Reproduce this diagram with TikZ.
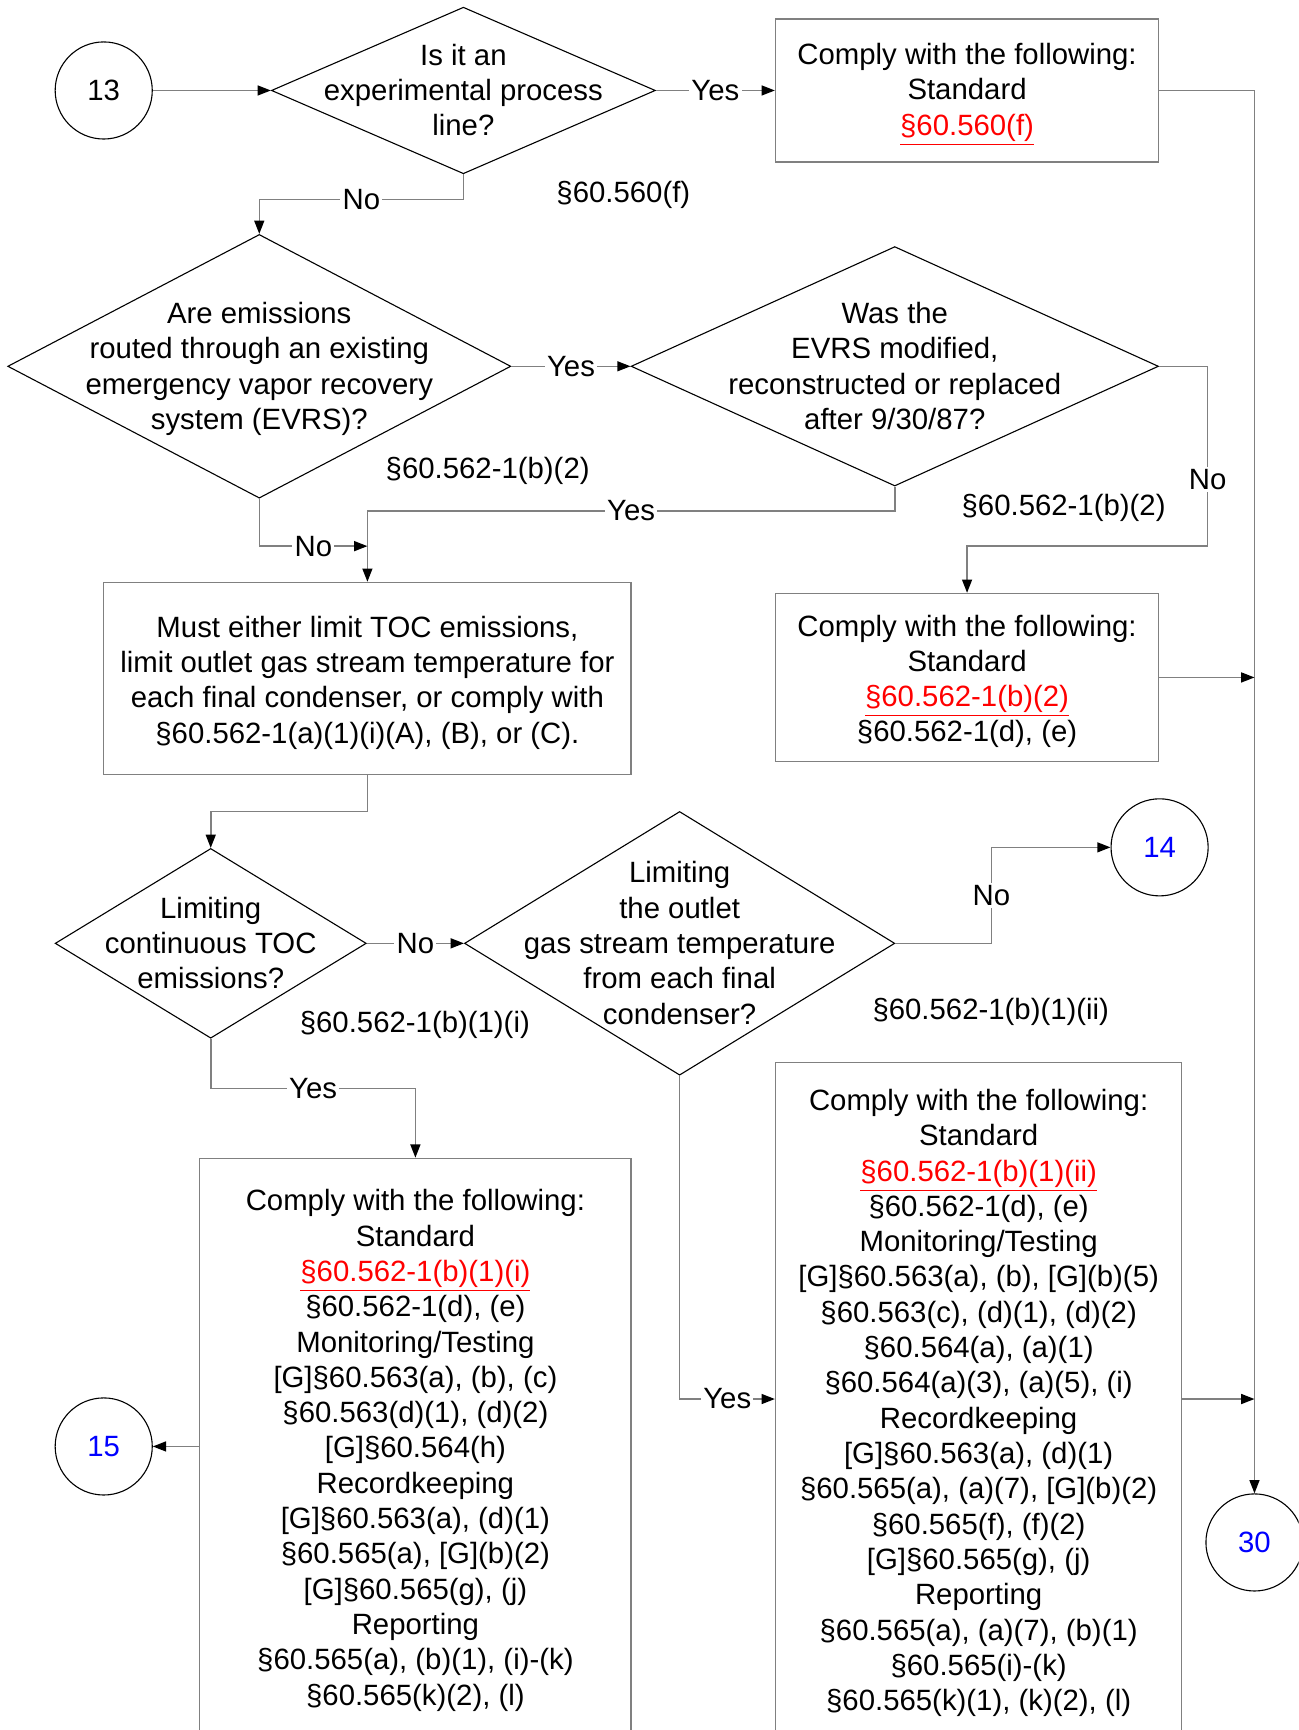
\documentclass[tikz,border=0pt]{standalone}
\usepackage{fontspec}
\setmainfont{Liberation Sans}
\usetikzlibrary{shapes.geometric,arrows.meta}

\newcommand{\qtext}[1]{\makebox[0pt]{\smash{\raisebox{-5pt}{\begin{tabular}{@{}c@{}}#1\end{tabular}}}}}
\newcommand{\stdref}[1]{\textcolor{red}{\underline{#1}}}
\newcommand{\topgap}{\rule{0pt}{13.2pt}}

\begin{document}
\begin{tikzpicture}[x=0.5pt,y=-0.5pt,
	every node/.style={font=\fontsize{13.3}{16}\selectfont},
	dec/.style={diamond,draw=black,line width=0.5pt,inner sep=0pt},
	stdbox/.style={rectangle,draw=gray,line width=0.7pt,align=center,inner sep=0pt},
	pagecirc/.style={circle,draw=black,line width=0.5pt,minimum size=44pt,inner sep=0pt},
	conn/.style={draw=gray,line width=0.7pt,-{Triangle[length=6pt,width=4.5pt,color=black]}},
	lbl/.style={fill=white,inner sep=1pt}]
	\useasboundingbox (0,0) rectangle (1177,1568);
	\clip (0,0) rectangle (1177,1568);

	% off-page connectors
	\node[pagecirc] (c13) at (94,82) {13};
	\node[pagecirc,text=blue] (c14) at (1051,768) {14};
	\node[pagecirc,text=blue] (c15) at (94,1311) {15};
	\node[pagecirc,text=blue] (c30) at (1137,1398) {30};

	% decisions
	\node[dec,minimum width=174pt,minimum height=75.5pt] (q1) at (420,82) {\qtext{Is it an\\experimental process\\line?}};
	\node[dec,minimum width=228pt,minimum height=119.5pt] (q2) at (235,332) {\qtext{Are emissions\\routed through an existing\\emergency vapor recovery\\system (EVRS)?}};
	\node[dec,minimum width=239pt,minimum height=108.5pt] (q3) at (811,332) {\qtext{Was the\\EVRS modified,\\reconstructed or replaced\\after 9/30/87?}};
	\node[dec,minimum width=141pt,minimum height=86pt] (q4) at (191,855) {\qtext{Limiting\\continuous TOC\\emissions?}};
	\node[dec,minimum width=195pt,minimum height=119.5pt] (q5) at (616,855) {\qtext{Limiting\\the outlet\\gas stream temperature\\from each final\\condenser?}};

	% requirement boxes
	\node[stdbox,minimum width=173.5pt,minimum height=65pt] (b1) at (876.5,82) {\topgap Comply with the following:\\Standard\\\stdref{§60.560(f)}};
	\node[stdbox,minimum width=239pt,minimum height=87pt] (b2) at (333,615) {\topgap Must either limit TOC emissions,\\limit outlet gas stream temperature for\\each final condenser, or comply with\\§60.562-1(a)(1)(i)(A), (B), or (C).};
	\node[stdbox,minimum width=173.5pt,minimum height=76pt] (b3) at (876.5,614) {\topgap Comply with the following:\\Standard\\\stdref{§60.562-1(b)(2)}\\§60.562-1(d), (e)};
	\node[stdbox,minimum width=195.5pt,minimum height=261pt] (b4) at (376.5,1311) {\topgap Comply with the following:\\Standard\\\stdref{§60.562-1(b)(1)(i)}\\§60.562-1(d), (e)\\Monitoring/Testing\\{}[G]§60.563(a), (b), (c)\\§60.563(d)(1), (d)(2)\\{}[G]§60.564(h)\\Recordkeeping\\{}[G]§60.563(a), (d)(1)\\§60.565(a), [G](b)(2)\\{}[G]§60.565(g), (j)\\Reporting\\§60.565(a), (b)(1), (i)-(k)\\§60.565(k)(2), (l)};
	\node[stdbox,minimum width=184pt,minimum height=305pt] (b5) at (887,1268) {\topgap Comply with the following:\\Standard\\\stdref{§60.562-1(b)(1)(ii)}\\§60.562-1(d), (e)\\Monitoring/Testing\\{}[G]§60.563(a), (b), [G](b)(5)\\§60.563(c), (d)(1), (d)(2)\\§60.564(a), (a)(1)\\§60.564(a)(3), (a)(5), (i)\\Recordkeeping\\{}[G]§60.563(a), (d)(1)\\§60.565(a), (a)(7), [G](b)(2)\\§60.565(f), (f)(2)\\{}[G]§60.565(g), (j)\\Reporting\\§60.565(a), (a)(7), (b)(1)\\§60.565(i)-(k)\\§60.565(k)(1), (k)(2), (l)};

	% citations
	\node (r1) at (565,177) {§60.560(f)};
	\node (r2) at (442,427) {§60.562-1(b)(2)};
	\node (r3) at (964,460) {§60.562-1(b)(2)};
	\node (r4) at (376,929) {§60.562-1(b)(1)(i)};
	\node (r5) at (898,917) {§60.562-1(b)(1)(ii)};

	\coordinate (j1) at (333,495);

	% flow
	\draw[conn] (c13.east) -- (q1.west);
	\draw[conn] (q1.east) -- node[lbl]{Yes} (b1.west);
	\draw[conn] (q1.south) -- ++(0,23) -| node[lbl,pos=.25]{No} (q2.north);
	\draw[conn] (b1.east) -| (c30.north);
	\draw[conn] (q2.east) -- node[lbl]{Yes} (q3.west);
	\draw[conn] (q3.south) -- ++(0,22) -| node[lbl,pos=.25]{Yes} (b2.north);
	\draw[conn] (q2.south) |- node[lbl,pos=.75]{No} (j1);
	\draw[conn] (q3.east) -- ++(44,0) -- node[lbl,pos=.63]{No} ++(0,163) -| (b3.north);
	\draw[conn] (b3.east) -- (b3.east -| c30.north);
	\draw[conn] (b2.south) -- ++(0,33) -| (q4.north);
	\draw[conn] (q4.east) -- node[lbl]{No} (q5.west);
	\draw[conn] (q5.east) -- ++(87,0) |- node[lbl,pos=.25]{No} (c14.west);
	\draw[conn] (q5.south) |- node[lbl,pos=.75]{Yes} (b5.west);
	\draw[conn] (q4.south) -- ++(0,45) -| node[lbl,pos=.25]{Yes} (b4.north);
	\draw[conn] (b4.west) -- (c15.east);
	\draw[conn] (b5.east) -- (b5.east -| c30.north);
\end{tikzpicture}
\end{document}
